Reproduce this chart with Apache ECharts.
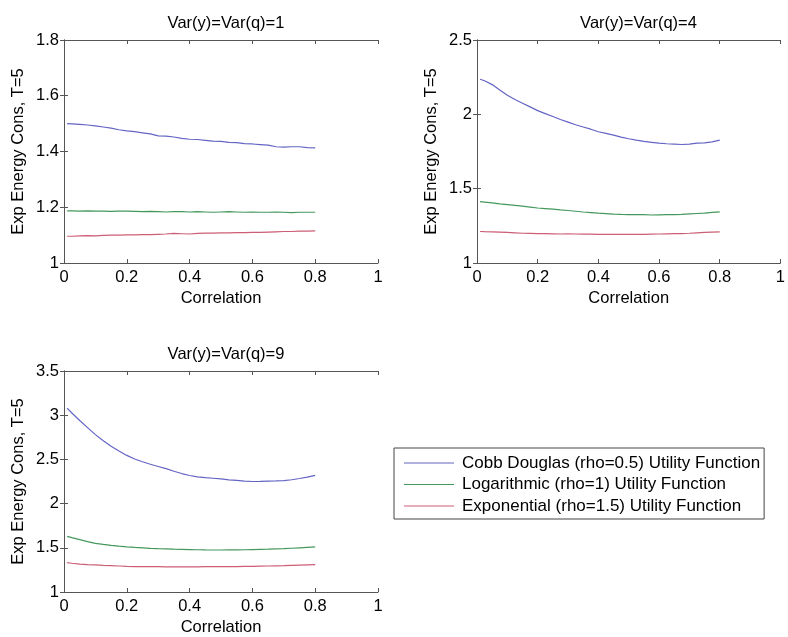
<!DOCTYPE html>
<html>
<head>
<meta charset="utf-8">
<script src="https://cdn.jsdelivr.net/npm/echarts@6/dist/echarts.min.js"></script>
<style>
  html, body { margin: 0; padding: 0; background: #fff; }
  #main { width: 788px; height: 637px; }
</style>
</head>
<body>
<div id="main"></div>
<script>
// correlation values (x)
var corr = [0.01,0.025,0.05,0.075,0.1,0.125,0.15,0.175,0.2,0.225,0.25,0.275,0.3,0.325,0.35,0.375,0.4,
            0.425,0.45,0.475,0.5,0.525,0.55,0.575,0.6,0.625,0.65,0.675,0.7,0.725,0.75,0.775,0.8];

var seriesNames = ['Cobb Douglas (rho=0.5) Utility Function', 'Logarithmic (rho=1) Utility Function', 'Exponential (rho=1.5) Utility Function'];
var panelTitles = ['Var(y)=Var(q)=1', 'Var(y)=Var(q)=4', 'Var(y)=Var(q)=9'];

// Var=1
var cobb1 = [1.500,1.499,1.497,1.495,1.492,1.488,1.484,1.478,1.474,1.471,1.467,1.463,1.456,1.455,1.452,1.447,1.444,
             1.443,1.440,1.437,1.436,1.433,1.432,1.428,1.427,1.425,1.423,1.417,1.416,1.417,1.417,1.414,1.413];
var log1 = [1.187,1.187,1.186,1.187,1.186,1.186,1.185,1.186,1.186,1.185,1.184,1.185,1.184,1.183,1.184,1.184,1.183,
            1.184,1.183,1.182,1.183,1.184,1.183,1.182,1.183,1.182,1.182,1.183,1.182,1.181,1.182,1.182,1.182];
var exp1 = [1.096,1.096,1.097,1.098,1.097,1.099,1.100,1.100,1.101,1.101,1.102,1.102,1.103,1.104,1.106,1.105,1.104,
            1.106,1.107,1.107,1.108,1.108,1.109,1.109,1.110,1.110,1.111,1.112,1.113,1.113,1.114,1.114,1.115];
// Var=4
var cobb4 = [2.236,2.226,2.200,2.163,2.128,2.100,2.075,2.050,2.025,2.005,1.985,1.965,1.948,1.930,1.915,1.900,1.883,
             1.872,1.860,1.847,1.836,1.826,1.818,1.812,1.806,1.802,1.800,1.797,1.800,1.806,1.808,1.815,1.826];
var log4 = [1.413,1.410,1.405,1.398,1.393,1.388,1.382,1.376,1.370,1.366,1.362,1.357,1.353,1.348,1.343,1.339,1.335,
            1.332,1.329,1.327,1.326,1.325,1.325,1.323,1.324,1.325,1.326,1.327,1.330,1.333,1.336,1.340,1.344];
var exp4 = [1.212,1.211,1.210,1.208,1.206,1.203,1.200,1.199,1.198,1.197,1.196,1.195,1.196,1.195,1.194,1.194,1.193,
            1.193,1.192,1.192,1.192,1.193,1.193,1.194,1.195,1.196,1.197,1.198,1.200,1.203,1.206,1.208,1.210];
// Var=9
var cobb9 = [3.080,3.025,2.940,2.860,2.780,2.712,2.650,2.595,2.545,2.505,2.473,2.445,2.420,2.395,2.366,2.340,2.318,
             2.303,2.294,2.287,2.280,2.268,2.262,2.255,2.250,2.252,2.255,2.257,2.260,2.270,2.284,2.300,2.320];
var log9 = [1.630,1.615,1.592,1.570,1.550,1.538,1.527,1.518,1.510,1.504,1.499,1.494,1.490,1.487,1.484,1.482,1.480,
            1.478,1.476,1.475,1.475,1.476,1.477,1.478,1.480,1.482,1.484,1.487,1.490,1.495,1.500,1.505,1.510];
var exp9 = [1.333,1.325,1.316,1.310,1.307,1.302,1.298,1.294,1.290,1.288,1.287,1.286,1.286,1.285,1.285,1.285,1.285,
            1.285,1.286,1.286,1.287,1.287,1.288,1.289,1.290,1.292,1.294,1.296,1.298,1.301,1.304,1.307,1.310];

var yMin = [1, 1, 1];
var yMax = [1.8, 2.5, 3.5];
var yStep = [0.2, 0.5, 0.5];

var colors = ['#6464c4', '#45985c', '#cc5e76'];
var font = 'Liberation Sans, Arial, sans-serif';
var fs = 16.5;

var panels = [[cobb1, log1, exp1], [cobb4, log4, exp4], [cobb9, log9, exp9]];
var grids = [
    {left: 64, top: 40, width: 314, height: 223},
    {left: 477, top: 40, width: 313, height: 223},
    {left: 64, top: 371, width: 314, height: 224}
];

var chart = echarts.init(document.getElementById('main'));

var xAxes = [], yAxes = [], series = [], titles = [];
for (var i = 0; i < 3; i++) {
    titles.push({
        text: panelTitles[i],
        left: grids[i].left + grids[i].width / 2,
        top: grids[i].top - 30,
        textAlign: 'center',
        textStyle: {fontFamily: font, fontSize: fs, fontWeight: 'normal', color: '#000'}
    });
    // bottom x
    xAxes.push({
        type: 'value', gridIndex: i, min: 0, max: 1, interval: 0.2,
        name: 'Correlation', nameLocation: 'middle', nameGap: 27,
        nameTextStyle: {fontFamily: font, fontSize: fs, color: '#000'},
        axisLine: {lineStyle: {color: '#555'}},
        axisTick: {inside: true, length: 4, lineStyle: {color: '#555'}},
        axisLabel: {fontFamily: font, fontSize: fs, color: '#000', margin: 6},
        splitLine: {show: false}
    });
    // top x (box)
    xAxes.push({
        type: 'value', gridIndex: i, position: 'top', min: 0, max: 1, interval: 0.2,
        axisLine: {lineStyle: {color: '#555'}},
        axisTick: {inside: true, length: 4, lineStyle: {color: '#555'}},
        axisLabel: {show: false}, splitLine: {show: false}
    });
    // left y
    yAxes.push({
        type: 'value', gridIndex: i, min: yMin[i], max: yMax[i], interval: yStep[i],
        name: 'Exp Energy Cons, T=5', nameLocation: 'middle', nameGap: 37,
        nameTextStyle: {fontFamily: font, fontSize: fs, color: '#000'},
        axisLine: {show: true, lineStyle: {color: '#555'}},
        axisTick: {show: true, inside: true, length: 4, lineStyle: {color: '#555'}},
        axisLabel: {fontFamily: font, fontSize: fs, color: '#000', margin: 5},
        splitLine: {show: false}
    });
    // right y (box)
    yAxes.push({
        type: 'value', gridIndex: i, position: 'right', min: yMin[i], max: yMax[i], interval: yStep[i],
        axisLine: {show: true, lineStyle: {color: '#555'}},
        axisTick: {show: true, inside: true, length: 4, lineStyle: {color: '#555'}},
        axisLabel: {show: false}, splitLine: {show: false}
    });
    for (var k = 0; k < 3; k++) {
        var pts = [];
        for (var j = 0; j < corr.length; j++) pts.push([corr[j], panels[i][k][j]]);
        series.push({
            name: seriesNames[k], type: 'line',
            xAxisIndex: i * 2, yAxisIndex: i * 2,
            symbol: 'none', animation: false,
            lineStyle: {width: 1.2, color: colors[k]},
            itemStyle: {color: colors[k]},
            data: pts
        });
    }
}

chart.setOption({
    backgroundColor: '#fff',
    animation: false,
    title: titles,
    grid: grids,
    xAxis: xAxes,
    yAxis: yAxes,
    legend: {
        orient: 'vertical', left: 394, top: 448,
        data: seriesNames,
        icon: 'rect',
        itemWidth: 50, itemHeight: 1, itemGap: 3.5,
        padding: [6, 4, 4, 10],
        borderColor: '#444', borderWidth: 1,
        backgroundColor: '#fff',
        textStyle: {fontFamily: font, fontSize: 17, lineHeight: 18, color: '#000', padding: [0, 0, 0, 3]}
    },
    series: series
});
</script>
</body>
</html>
